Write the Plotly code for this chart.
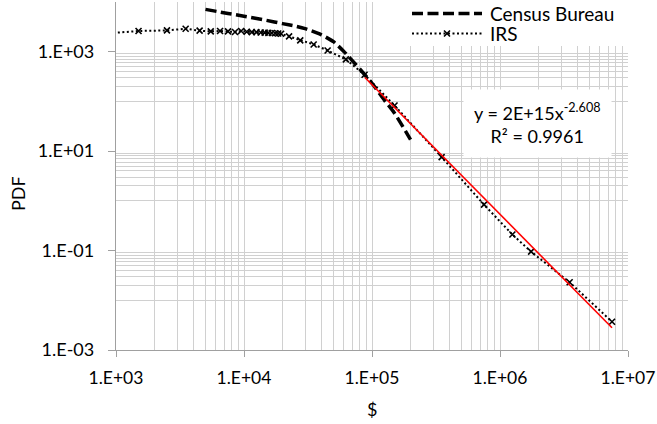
import plotly.graph_objects as go

# ---------------- data ----------------
irs_income = [500, 1500, 2500, 3500, 4500, 5500, 6500, 7500, 8500, 9500,
              10500, 11500, 12500, 13500, 14500, 15500, 16500, 17500, 18500, 19500,
              22500, 27500, 35000, 45000, 62500, 87500, 150000, 350000, 750000,
              1250000, 1750000, 3500000, 7500000]
irs_pdf = [2100, 2610, 2680, 2900, 2650, 2560, 2610, 2560, 2490, 2610,
           2520, 2480, 2470, 2440, 2420, 2400, 2380, 2350, 2330, 2300,
           2030, 1690, 1400, 1060, 700, 344, 83, 7.6, 0.84, 0.21, 0.095, 0.023, 0.0037]

census_income = [5000, 7500, 10000, 15000, 20000, 25000, 30000, 40000, 50000,
                 60000, 75000, 100000, 125000, 150000, 200000]
census_pdf = [7100, 5880, 5180, 4270, 3670, 3290, 2915, 2207, 1590,
              1024, 547, 232, 106, 58, 17]

trend_coef = 2.38e15
trend_exp = -2.608
trend_income = [88000, 7500000]
trend_pdf = [trend_coef * v ** trend_exp for v in trend_income]

series_names = ["Census Bureau", "IRS"]
trend_label = "y = 2E+15x<sup>-2.608</sup><br>R² = 0.9961"

x_major = [1e3, 1e4, 1e5, 1e6, 1e7]
x_labels = ["1.E+03", "1.E+04", "1.E+05", "1.E+06", "1.E+07"]
y_major = [1e-3, 1e-1, 1e1, 1e3]
y_labels = ["1.E-03", "1.E-01", "1.E+01", "1.E+03"]

x_minor = [k * 10 ** e for e in range(3, 7) for k in range(2, 10)]
y_grid = [k * 10 ** e for e in (-2, 0, 2) for k in range(1, 10)] + [1e4]

# ---------------- layout helpers ----------------
W, H = 657, 424
ML, MR, MT, MB = 116, 29, 2, 74
PW, PH = W - ML - MR, H - MT - MB


def px(x):  # pixel x -> paper x
    return (x - ML) / PW


def py(y):  # pixel y -> paper y
    return (H - MB - y) / PH


GRID = "#d0d0d0"
AXIS = "#a0a0a0"
FONT = "Lato"
CENSUS_LINE = dict(color="black", width=3.5, dash="11px,4.5px")
IRS_LINE = dict(color="black", width=2, dash="2px,2.5px")

fig = go.Figure()
fig.add_trace(go.Scatter(
    x=census_income, y=census_pdf, mode="lines", name=series_names[0],
    showlegend=False,
    line=dict(**CENSUS_LINE, shape="spline", smoothing=0.6)))
fig.add_trace(go.Scatter(
    x=irs_income, y=irs_pdf, mode="lines+markers", name=series_names[1],
    showlegend=False, line=IRS_LINE,
    marker=dict(symbol="x-thin", size=6, color="black",
                line=dict(color="black", width=1.6))))
fig.add_trace(go.Scatter(
    x=trend_income, y=trend_pdf, mode="lines", showlegend=False,
    line=dict(color="red", width=1.6)))

# manual legend (white box, samples, labels)
leg_x0, leg_x1, leg_text_x = 412, 482, 488
leg_rows = [13.5, 33.5]
shapes = [
    dict(type="rect", xref="paper", yref="paper", layer="above",
         x0=px(402), x1=px(W), y0=py(46), y1=py(-2),
         fillcolor="white", line=dict(width=0)),
    dict(type="line", xref="paper", yref="paper", layer="above",
         x0=px(leg_x0), x1=px(leg_x1), y0=py(leg_rows[0]), y1=py(leg_rows[0]),
         line=CENSUS_LINE),
    dict(type="line", xref="paper", yref="paper", layer="above",
         x0=px(leg_x0), x1=px(leg_x1), y0=py(leg_rows[1]), y1=py(leg_rows[1]),
         line=IRS_LINE),
    dict(type="path", xref="paper", yref="paper", layer="above",
         xsizemode="pixel", ysizemode="pixel",
         xanchor=px((leg_x0 + leg_x1) / 2), yanchor=py(leg_rows[1]),
         path="M-3,-3L3,3M-3,3L3,-3", line=dict(color="black", width=1.6)),
]

annotations = [
    dict(text=series_names[0], x=px(leg_text_x), y=py(leg_rows[0]),
         xref="paper", yref="paper", showarrow=False,
         xanchor="left", yanchor="middle",
         font=dict(family=FONT, size=19, color="black")),
    dict(text=series_names[1], x=px(leg_text_x), y=py(leg_rows[1]),
         xref="paper", yref="paper", showarrow=False,
         xanchor="left", yanchor="middle",
         font=dict(family=FONT, size=19, color="black")),
    dict(text="PDF", x=px(18), y=py(194), xref="paper", yref="paper",
         textangle=-90, showarrow=False, xanchor="center", yanchor="middle",
         font=dict(family=FONT, size=18, color="black")),
    dict(text="$", x=0.5, y=py(409), xref="paper", yref="paper",
         showarrow=False, xanchor="center", yanchor="middle",
         font=dict(family=FONT, size=18, color="black")),
    dict(text=trend_label,
         x=px(537), y=py(124), xref="paper", yref="paper", showarrow=False,
         xanchor="center", yanchor="middle", align="center",
         bgcolor="white", borderpad=10,
         font=dict(family=FONT, size=18, color="black")),
]

fig.update_layout(
    width=W, height=H,
    margin=dict(l=ML, r=MR, t=MT, b=MB, autoexpand=False),
    paper_bgcolor="white", plot_bgcolor="white",
    font=dict(family=FONT, size=18, color="black"),
    showlegend=False,
    xaxis=dict(type="log", range=[3, 7],
               tickmode="array", tickvals=x_major, ticktext=x_labels,
               tickfont=dict(family=FONT, size=17.5, color="black"),
               ticks="outside", ticklen=6, tickcolor=AXIS, tickwidth=1.3,
               showline=True, linecolor=AXIS, linewidth=1.3,
               showgrid=True, gridcolor=GRID, gridwidth=1.3,
               ticklabelstandoff=6, zeroline=False,
               minor=dict(tickmode="array", tickvals=x_minor, ticks="",
                          showgrid=True, gridcolor=GRID, gridwidth=1.3)),
    yaxis=dict(type="log", range=[-3, 4],
               tickmode="array", tickvals=y_major, ticktext=y_labels,
               tickfont=dict(family=FONT, size=18, color="black"),
               ticks="outside", ticklen=7, tickcolor=AXIS, tickwidth=1.3,
               showline=True, linecolor=AXIS, linewidth=1.3,
               showgrid=False, ticklabelstandoff=10, zeroline=False,
               minor=dict(tickmode="array", tickvals=y_grid, ticks="",
                          showgrid=True, gridcolor=GRID, gridwidth=1.3)),
    shapes=shapes,
    annotations=annotations,
)

fig.write_html(
    "out.html",
    config={"displayModeBar": False},
    post_script="document.body.style.margin='0';"
                "document.body.style.padding='0';"
                "document.body.style.overflow='hidden';")
